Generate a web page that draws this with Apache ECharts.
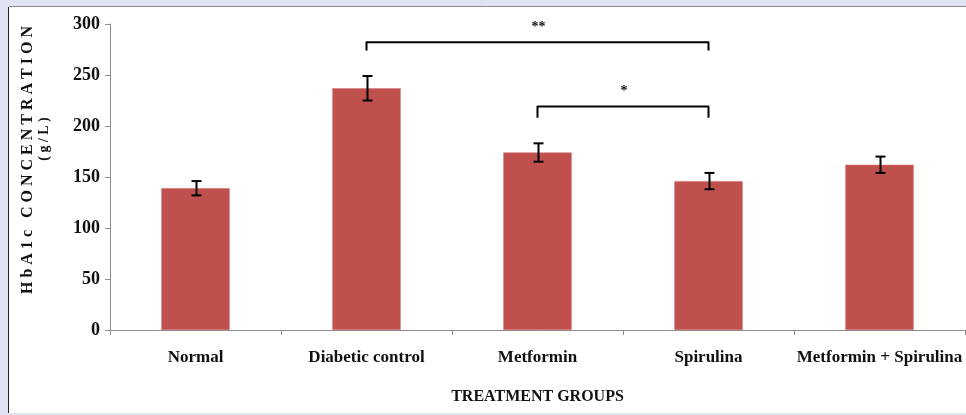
<!DOCTYPE html>
<html>
<head>
<meta charset="utf-8">
<style>
  html, body { margin: 0; padding: 0; background: #dfe3f2; }
  #chart { width: 966px; height: 415px; }
</style>
<script src="https://cdn.jsdelivr.net/npm/echarts@6/dist/echarts.min.js"></script>
</head>
<body>
<div id="chart"></div>
<script>
// HbA1c concentration by treatment group (mean ± error)
const groups = ['Normal', 'Diabetic control', 'Metformin', 'Spirulina', 'Metformin + Spirulina'];
const hba1cMean = [139, 237, 174, 146, 162];
const hba1cError = [7, 12, 9, 8, 8];
const yTicks = [0, 50, 100, 150, 200, 250, 300];

// significance brackets: [from group, to group, bracket level, drop-end level, mark]
const bracketFrom = [1, 2];
const bracketTo = [3, 3];
const bracketLevel = [282, 219];
const bracketDrop = [274, 208];
const bracketMark = ['**', '*'];

const serif = '"Liberation Serif", "Times New Roman", serif';
const ink = '#111111';
const axisGrey = '#8c8c8c';

const chart = echarts.init(document.getElementById('chart'), null, { renderer: 'canvas' });

const errorData = hba1cMean.map((v, i) => [i, v, hba1cError[i]]);
const bracketData = bracketFrom.map((f, i) => [f, bracketTo[i], bracketLevel[i], bracketDrop[i], bracketMark[i]]);

chart.setOption({
  backgroundColor: '#dfe3f2',
  animation: false,
  graphic: [
    { type: 'rect', z: -10, shape: { x: 9, y: 7, width: 957, height: 406 }, style: { fill: '#ffffff' } },
    { type: 'line', z: -9, shape: { x1: 8.5, y1: 7, x2: 8.5, y2: 413 }, style: { stroke: '#222222', lineWidth: 1 } },
    { type: 'line', z: -9, shape: { x1: 9, y1: 6.5, x2: 966, y2: 6.5 }, style: { stroke: '#8a8a8a', lineWidth: 1 } },
    { type: 'line', z: -9, shape: { x1: 9, y1: 413.5, x2: 966, y2: 413.5 }, style: { stroke: '#e6e6e6', lineWidth: 1 } }
  ],
  grid: { left: 110, right: 1, top: 24, bottom: 85, containLabel: false },
  xAxis: {
    type: 'category',
    data: groups,
    name: 'TREATMENT GROUPS',
    nameLocation: 'middle',
    nameGap: 59,
    nameTextStyle: { fontFamily: serif, fontWeight: 'bold', fontSize: 16, color: ink },
    axisLine: { lineStyle: { color: axisGrey, width: 1 } },
    axisTick: { show: true, alignWithLabel: false, length: 5, lineStyle: { color: axisGrey } },
    axisLabel: { margin: 19, fontFamily: serif, fontWeight: 'bold', fontSize: 17, color: ink, interval: 0 },
    splitLine: { show: false }
  },
  yAxis: {
    type: 'value',
    min: yTicks[0],
    max: yTicks[yTicks.length - 1],
    interval: yTicks[1] - yTicks[0],
    name: '{main|H b A 1 c   C O N C E N T R A T I O N}\n{unit|( g / L )}',
    nameLocation: 'middle',
    nameRotate: 90,
    nameGap: 58,
    nameTextStyle: {
      fontFamily: serif, fontWeight: 'bold', color: ink, padding: [0, 0, 0, 34],
      rich: {
        main: { fontFamily: serif, fontWeight: 'bold', fontSize: 16, color: ink, lineHeight: 18 },
        unit: { fontFamily: serif, fontWeight: 'bold', fontSize: 14, color: ink, lineHeight: 15, padding: [0, 0, 0, 42] }
      }
    },
    axisLine: { show: true, lineStyle: { color: axisGrey, width: 1 } },
    axisTick: { show: true, length: 5, lineStyle: { color: axisGrey } },
    axisLabel: { margin: 10, fontFamily: serif, fontWeight: 'bold', fontSize: 18, color: ink },
    splitLine: { show: false }
  },
  series: [
    {
      type: 'bar',
      data: hba1cMean,
      barWidth: '40%',
      itemStyle: { color: '#c0504d', borderColor: '#d27572', borderWidth: 0.6 },
      z: 2
    },
    {
      type: 'custom',
      data: errorData,
      z: 5,
      renderItem: function (params, api) {
        const x = api.value(0), v = api.value(1), e = api.value(2);
        const top = api.coord([x, v + e]);
        const bot = api.coord([x, v - e]);
        const cx = Math.round(top[0]) + 0.5;
        const cap = 5;
        const st = { stroke: '#000000', lineWidth: 2 };
        return {
          type: 'group',
          children: [
            { type: 'line', shape: { x1: cx, y1: top[1], x2: cx, y2: bot[1] }, style: st },
            { type: 'line', shape: { x1: cx - cap, y1: top[1], x2: cx + cap, y2: top[1] }, style: st },
            { type: 'line', shape: { x1: cx - cap, y1: bot[1], x2: cx + cap, y2: bot[1] }, style: st }
          ]
        };
      }
    },
    {
      type: 'custom',
      data: bracketData,
      z: 5,
      renderItem: function (params, api) {
        const a = api.value(0), b = api.value(1), lvl = api.value(2), drop = api.value(3);
        const mark = bracketData[params.dataIndex][4];
        const p1 = api.coord([a, lvl]);
        const p2 = api.coord([b, lvl]);
        const d1 = api.coord([a, drop]);
        const st = { stroke: '#000000', lineWidth: 2, fill: null, lineJoin: 'round' };
        return {
          type: 'group',
          children: [
            { type: 'polyline', shape: { points: [[p1[0], d1[1]], [p1[0], p1[1]], [p2[0], p2[1]], [p2[0], d1[1]]] }, style: st },
            {
              type: 'text',
              style: {
                text: mark, x: (p1[0] + p2[0]) / 2 + 1, y: p1[1] - 15,
                align: 'center', verticalAlign: 'middle',
                font: 'bold 14px ' + serif, fill: '#111111'
              }
            }
          ]
        };
      }
    }
  ]
});
</script>
</body>
</html>
